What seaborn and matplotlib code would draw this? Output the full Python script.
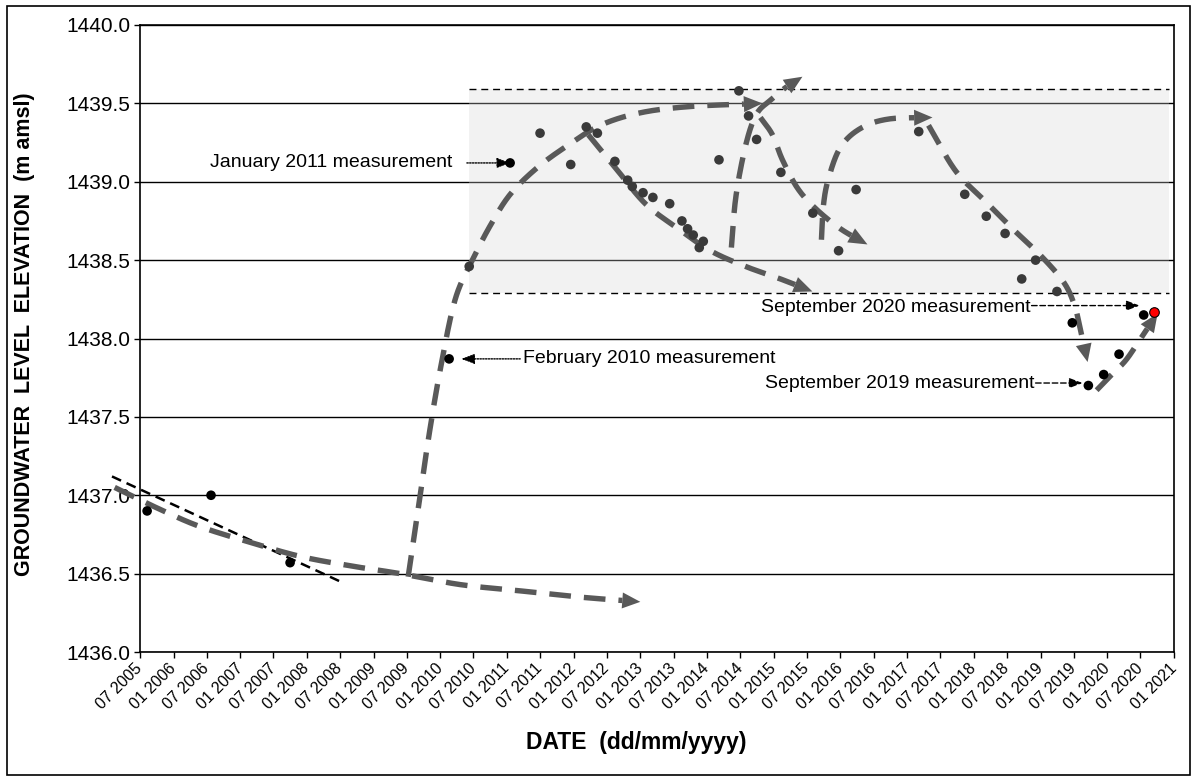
import numpy as np
import pandas as pd
import matplotlib
matplotlib.use("Agg")
import matplotlib.pyplot as plt
import matplotlib.dates as mdates
import matplotlib.transforms as mtransforms
from matplotlib.patches import Rectangle, Polygon
import seaborn as sns

# ---------------- data ----------------
dates = ["2005-08-09", "2006-07-25", "2007-10-01", "2010-02-18", "2010-06-08",
         "2011-01-18", "2011-07-01", "2011-12-16", "2012-03-10", "2012-05-10",
         "2012-08-14", "2012-10-23", "2012-11-17", "2013-01-15", "2013-03-10",
         "2013-06-10", "2013-08-16", "2013-09-16", "2013-10-17", "2013-11-19",
         "2013-12-11", "2014-03-07", "2014-06-24", "2014-08-16", "2014-09-29",
         "2015-02-09", "2015-08-03", "2015-12-22", "2016-03-27", "2017-03-05",
         "2017-11-12", "2018-03-10", "2018-06-21", "2018-09-20", "2018-12-05",
         "2019-04-01", "2019-06-24", "2019-09-20", "2019-12-13", "2020-03-06",
         "2020-07-19", "2020-09-15"]
levels = [1436.90, 1437.00, 1436.57, 1437.87, 1438.46,
          1439.12, 1439.31, 1439.11, 1439.35, 1439.31,
          1439.13, 1439.01, 1438.97, 1438.93, 1438.90,
          1438.86, 1438.75, 1438.70, 1438.66, 1438.58,
          1438.62, 1439.14, 1439.58, 1439.42, 1439.27,
          1439.06, 1438.80, 1438.56, 1438.95, 1439.32,
          1438.92, 1438.78, 1438.67, 1438.38, 1438.50,
          1438.30, 1438.10, 1437.70, 1437.77, 1437.90,
          1438.15, 1438.17]
groups = (["early"] * 4 + ["band"] + ["early"] + ["band"] * 30 +
          ["recent"] * 5 + ["latest"])

# range band of levels (decimal years / m amsl)
band_start, band_end = 2010.43, 2020.93
band_low, band_high = 1438.29, 1439.59

# early trend line (decimal year, level)
trend_line = [(2005.08, 1437.12), (2008.50, 1436.45)]

# hand-drawn interpretive arrows (decimal year, level)
curve_a = [(2005.12, 1437.05), (2005.80, 1436.91), (2006.40, 1436.80), (2007.15, 1436.70),
           (2007.90, 1436.61), (2008.65, 1436.55), (2009.40, 1436.50), (2010.30, 1436.43),
           (2011.20, 1436.39), (2012.10, 1436.35), (2013.00, 1436.32)]
curve_b = [(2009.52, 1436.48), (2009.67, 1436.91), (2009.82, 1437.35), (2010.00, 1437.80),
           (2010.225, 1438.25), (2010.495, 1438.51), (2010.75, 1438.72), (2011.05, 1438.92),
           (2011.455, 1439.09), (2011.905, 1439.23), (2012.40, 1439.36), (2013.00, 1439.44),
           (2013.75, 1439.48), (2014.83, 1439.50)]
curve_c = [(2012.22, 1439.30), (2012.625, 1439.09), (2013.075, 1438.86), (2013.57, 1438.70),
           (2014.05, 1438.56), (2014.575, 1438.46), (2015.10, 1438.38), (2015.58, 1438.30)]
curve_d = [(2014.365, 1438.58), (2014.425, 1438.88), (2014.53, 1439.14), (2014.65, 1439.34),
           (2014.77, 1439.45), (2014.95, 1439.52), (2015.175, 1439.60), (2015.43, 1439.67)]
curve_e = [(2014.80, 1439.41), (2014.98, 1439.30), (2015.13, 1439.14), (2015.355, 1438.96),
           (2015.625, 1438.83), (2016.00, 1438.70), (2016.405, 1438.60)]
curve_f = [(2015.715, 1438.63), (2015.745, 1438.85), (2015.82, 1439.02), (2016.00, 1439.22),
           (2016.30, 1439.34), (2016.72, 1439.40), (2017.38, 1439.41)]
curve_g = [(2017.32, 1439.36), (2017.725, 1439.07), (2018.16, 1438.88), (2018.58, 1438.70),
           (2019.00, 1438.53), (2019.345, 1438.36), (2019.51, 1438.21), (2019.60, 1438.05),
           (2019.705, 1437.85)]
curve_h = [(2019.84, 1437.67), (2020.02, 1437.75), (2020.275, 1437.86), (2020.50, 1438.00),
           (2020.755, 1438.16)]
curves = [curve_a, curve_b, curve_c, curve_d, curve_e, curve_f, curve_g, curve_h]

# annotations: text, text anchor (yr, level), ha, arrow start, arrow tip, style
notes = [
    ("January 2011 measurement", (2010.18, 1439.12), "right", (2010.40, 1439.12), (2011.05, 1439.12), "dot"),
    ("February 2010 measurement", (2011.245, 1437.87), "left", (2011.20, 1437.87), (2010.315, 1437.87), "dot"),
    ("September 2020 measurement", (2018.85, 1438.20), "right", (2018.865, 1438.21), (2020.485, 1438.21), "dash"),
    ("September 2019 measurement", (2018.91, 1437.716), "right", (2018.925, 1437.716), (2019.63, 1437.716), "dash"),
]

x_start, x_end = "2005-07-01", "2021-01-01"
y_min, y_max, y_step = 1436.0, 1440.0, 0.5

# ---------------- styling ----------------
sns.set_theme(style="white")
plt.rcParams["font.family"] = ["Liberation Sans", "DejaVu Sans"]
plt.rcParams["text.color"] = "black"
plt.rcParams["axes.labelcolor"] = "black"

W, H = 1192, 776
fig = plt.figure(figsize=(W / 100, H / 100), dpi=100)
ax = fig.add_axes([140 / W, 1 - 652 / H, (1174 - 140) / W, (652 - 25) / H])

X0 = mdates.date2num(pd.Timestamp(x_start))
X1 = mdates.date2num(pd.Timestamp(x_end))
YEARS = 15.5


def yr(t):
    return X0 + (t - 2005.5) * (X1 - X0) / YEARS


ax.set_xlim(X0, X1)
ax.set_ylim(y_min, y_max)

df = pd.DataFrame({"date": pd.to_datetime(dates), "level": levels, "group": groups})

GRAY = "#595959"

# band and its dashed limits
ax.add_patch(Rectangle((yr(band_start), band_low), yr(band_end) - yr(band_start),
                       band_high - band_low, facecolor=(0.83, 0.83, 0.83, 0.30),
                       edgecolor="none", zorder=1.5))
for lvl in (band_low, band_high):
    ax.plot([yr(band_start), yr(band_end)], [lvl, lvl], color="black", lw=1.0,
            dashes=(5, 3.5), zorder=2)

# grid
ax.set_yticks(np.arange(y_min, y_max + 0.01, y_step))
ax.yaxis.grid(True, color="black", lw=1.0)
ax.xaxis.grid(False)
ax.set_axisbelow(True)

# trend line
ax.plot([yr(p[0]) for p in trend_line], [p[1] for p in trend_line], color="black",
        lw=1.8, dashes=(4, 2.4), zorder=3, clip_on=False)


def catmull(P, n=40):
    P = np.asarray(P, float)
    P = np.vstack([2 * P[0] - P[1], P, 2 * P[-1] - P[-2]])
    out = []
    s = np.linspace(0, 1, n, endpoint=False)[:, None]
    for i in range(1, len(P) - 2):
        p0, p1, p2, p3 = P[i - 1], P[i], P[i + 1], P[i + 2]
        out.append(0.5 * ((2 * p1) + (-p0 + p2) * s + (2 * p0 - 5 * p1 + 4 * p2 - p3) * s ** 2
                          + (-p0 + 3 * p1 - 3 * p2 + p3) * s ** 3))
    out.append(P[-2][None])
    return np.vstack(out)


def draw_curve(pts, head_len=18, head_w=16):
    P = np.array([[yr(t), v] for t, v in pts])
    C = catmull(P)
    D = ax.transData.transform(C)
    seg = np.hypot(*np.diff(D, axis=0).T)
    from_end = np.concatenate([np.cumsum(seg[::-1])[::-1], [0.0]])
    idx = np.where(from_end >= head_len)[0][-1]
    line = C[: idx + 1]
    ax.plot(line[:, 0], line[:, 1], color=GRAY, lw=3.9, dashes=(4, 2.4),
            solid_capstyle="butt", dash_capstyle="butt", zorder=3, clip_on=False)
    tip, base = D[-1], D[idx]
    u = (tip - base) / np.hypot(*(tip - base))
    nrm = np.array([-u[1], u[0]])
    tri = np.array([tip, base + nrm * head_w / 2, base - nrm * head_w / 2])
    tri = ax.transData.inverted().transform(tri)
    ax.add_patch(Polygon(tri, closed=True, facecolor=GRAY, edgecolor="none",
                         zorder=3, clip_on=False))


for c in curves:
    draw_curve(c)

# points
main = df[df["group"] != "latest"]
sns.scatterplot(data=main, x="date", y="level", hue="group",
                palette={"early": "black", "band": "#3a3a3a", "recent": "black"},
                s=48, edgecolor="none", legend=False, ax=ax, zorder=4)
sns.scatterplot(data=df[df["group"] == "latest"], x="date", y="level", color="#ff0000",
                s=48, edgecolor="black", linewidth=0.8, legend=False, ax=ax, zorder=4)

# annotations
for text, (tx, ty), ha, (ax0, ay0), (ax1, ay1), style in notes:
    ax.text(yr(tx), ty, text, ha=ha, va="center", fontsize=14, color="black", zorder=5)
    ls = (0, (1, 1)) if style == "dot" else (0, (4, 2))
    ax.annotate("", xy=(yr(ax1), ay1), xytext=(yr(ax0), ay0),
                arrowprops=dict(arrowstyle="-|>,head_length=0.8,head_width=0.3",
                                color="black", lw=1.0, linestyle=ls,
                                shrinkA=0, shrinkB=0, mutation_scale=10),
                zorder=5)

# axes
ticks = pd.date_range(x_start, x_end, freq="6MS")
ax.set_xticks(mdates.date2num(ticks))
ax.xaxis.set_major_formatter(mdates.DateFormatter("%m %Y"))
shift = mtransforms.ScaledTranslation(4 / 100, -2 / 100, fig.dpi_scale_trans)
for lab in ax.get_xticklabels():
    lab.set_rotation(45)
    lab.set_ha("right")
    lab.set_va("center")
    lab.set_rotation_mode("anchor")
    lab.set_transform(lab.get_transform() + shift)
ax.yaxis.set_major_formatter(matplotlib.ticker.FormatStrFormatter("%.1f"))
ax.tick_params(axis="x", bottom=True, direction="out", length=4, width=1, color="black",
               labelsize=11.5, pad=6, labelcolor="black")
ax.tick_params(axis="y", left=True, direction="out", length=4, width=1, color="black",
               labelsize=15, pad=3, labelcolor="black")
for sp in ax.spines.values():
    sp.set_color("black")
    sp.set_linewidth(1.2)
    sp.set_visible(True)
ax.set_xlabel("")
ax.set_ylabel("")

fig.text(25 / W, 1 - 334 / H, "GROUNDWATER  LEVEL  ELEVATION  (m amsl)", rotation=90,
         ha="center", va="center", fontsize=15.5, fontweight="bold", color="black")
fig.text(636 / W, 1 - 743 / H, "DATE  (dd/mm/yyyy)", ha="center", va="center",
         fontsize=16.5, fontweight="bold", color="black")

fig.patches.append(Rectangle((7 / W, 1 / H), (1190 - 7) / W, (775 - 6) / H,
                             transform=fig.transFigure, fill=False, edgecolor="black",
                             lw=1.2))

fig.savefig("out.png", dpi=100)
